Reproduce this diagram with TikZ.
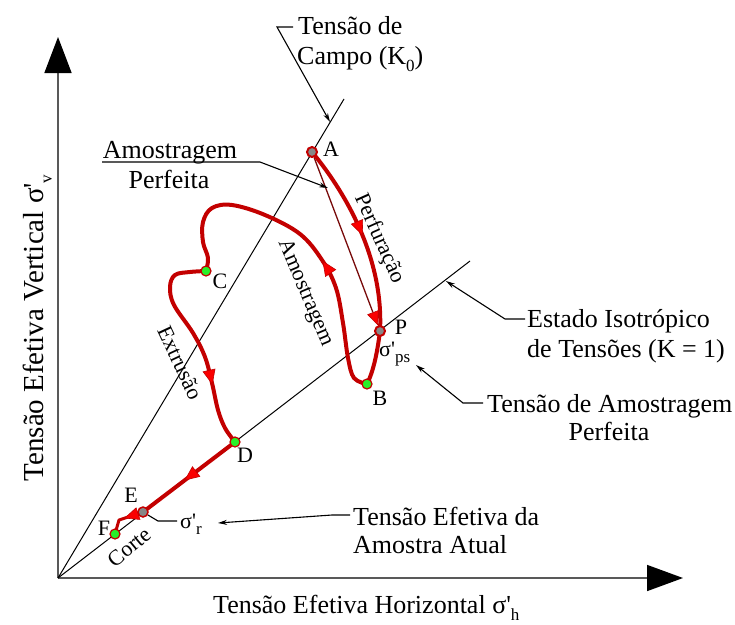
\documentclass[tikz,border=0pt]{standalone}
\usepackage{fontspec}
\setmainfont{Liberation Serif}
\usetikzlibrary{arrows.meta,decorations.markings}
\definecolor{pathred}{RGB}{195,0,0}
\definecolor{arrred}{RGB}{250,0,0}
\definecolor{thinred}{RGB}{120,10,10}
\definecolor{dotgreen}{RGB}{40,240,40}
\definecolor{dotgray}{RGB}{135,135,135}
\newcommand\sbs[1]{\raisebox{-0.3em}{\fontsize{17}{17}\selectfont #1}}
\newcommand\prm{\textquotesingle}
\pgfdeclarelayer{bg}
\pgfsetlayers{bg,main}
\begin{document}
\begin{tikzpicture}[x=1pt,y=-1pt,
 big/.style={font=\fontsize{26}{30}\selectfont, inner sep=0pt},
 med/.style={font=\fontsize{22}{26}\selectfont, inner sep=0pt},
 ax/.style={line width=1.6pt, draw=black!65},
 kline/.style={line width=1pt, black},
 leader/.style={line width=1.1pt, black},
 ltip/.style={-{Stealth[length=9pt,width=5pt]}},
 thickpath/.style={line width=4pt, draw=pathred, line cap=round, line join=round},
 midarrow/.style={postaction={decorate}, decoration={markings, mark=at position #1 with {\arrow{Triangle[length=15pt,width=13pt,color=pathred,fill=arrred,line width=0.6pt]}}}},
 pt/.style={circle, minimum size=10pt, inner sep=0pt, draw=pathred, line width=2pt},
]
\useasboundingbox (0,0) rectangle (735,624);

% origin and line ends
\coordinate (O) at (58,578);
\coordinate (ytop) at (58,37);
\coordinate (xend) at (683,578);
\coordinate (k0end) at (344,99);
\coordinate (k1end) at (470,261);

% stress path points
\node[pt, fill=dotgray] (A) at (312,152) {};
\node[pt, fill=dotgray] (P) at (380,331) {};
\node[pt, fill=dotgreen, line width=1.2pt] (B) at (367,384) {};
\node[pt, fill=dotgreen, line width=1.2pt] (C) at (206,271) {};
\node[pt, fill=dotgreen, line width=1.2pt] (D) at (235,442) {};
\node[pt, fill=dotgray, line width=1.5pt] (E) at (143,512) {};
\node[pt, fill=dotgreen, line width=1.2pt] (F) at (115,534) {};

% point labels
\node[med] (lA) at (331,149) {A};
\node[med] (lP) at (401,327) {P};
\node[med, anchor=base west] (lps) at (379,356) {σ\prm\sbs{ps}};
\node[med] (lB) at (380,398) {B};
\node[med] (lC) at (220,281) {C};
\node[med] (lD) at (245,455) {D};
\node[med] (lE) at (131,495) {E};
\node[med] (lF) at (104,528) {F};
\node[med, anchor=base west] (lr) at (180,528) {σ\prm\sbs{r}};

\begin{pgfonlayer}{bg}
% axes
\draw[ax, -{Triangle[length=36pt,width=27pt,color=black]}] (O) -- (ytop);
\draw[ax, -{Triangle[length=36pt,width=26pt,color=black]}] (O) -- (xend);
% K lines
\draw[kline] (O) -- (k0end);
\draw[kline] (O) -- (k1end);

% perfect sampling line
\draw[line width=1.3pt, thinred, -{Triangle[length=14pt,width=12pt,color=pathred,fill=arrred,line width=0.6pt]}] (A) -- (P);

% drilling
\draw[thickpath, midarrow=0.5] (A.center) .. controls (342,188) and (384,255) .. (P.center);
\draw[thickpath] (P.center) .. controls (377,355) and (373,372) .. (B.center);
% sampling
\draw[thickpath, midarrow=0.41] plot[smooth, tension=0.6] coordinates {(B.center) (354,378) (348,358) (343,323) (336,288) (322,260) (300,234) (265,215) (232,205) (212,208) (203,222) (203,242) (208,258) (C.center)};
% extrusion
\draw[thickpath, midarrow=0.71] plot[smooth, tension=0.6] coordinates {(C.center) (190,272) (175,275) (170,287) (174,305) (193,333) (205,357) (212,383) (218,410) (225,428) (D.center)};
% D to E
\draw[thickpath, midarrow=0.55] (D.center) -- (E.center);
% cutting
\draw[thickpath, line width=3pt, midarrow=0.5] (E.center) -- (119,520) -- (F.center);
\end{pgfonlayer}

% texts
\node[big, anchor=base west] (t1) at (298,34) {Tensão de};
\node[big, anchor=base west] (t2) at (297,64) {Campo (K\sbs{0})};
\node[big, anchor=base] (am1) at (170,158) {Amostragem};
\node[big, anchor=base] (am2) at (169,188) {Perfeita};
\node[big, anchor=base west] (ei1) at (527,327) {Estado Isotrópico};
\node[big, anchor=base west] (ei2) at (527,357) {de Tensões (K = 1)};
\node[big, anchor=base west] (ta1) at (487,412) {Tensão de Amostragem};
\node[big, anchor=base] (ta2) at (609,440) {Perfeita};
\node[big, anchor=base west] (te1) at (353,525) {Tensão Efetiva da};
\node[big, anchor=base west] (te2) at (353,553) {Amostra Atual};
\node[big, anchor=base west] (xlab) at (213,613) {Tensão Efetiva Horizontal σ\prm\sbs{h}};
\node[big, font=\fontsize{29}{32}\selectfont, rotate=90, anchor=base] (ylab) at (43,328) {Tensão Efetiva Vertical σ\prm\sbs{v}};

% path labels
\node[med, rotate=-66] (lperf) at (379,239) {Perfuração};
\node[med, rotate=-67] (lamo) at (305,293) {Amostragem};
\node[med, rotate=-65] (lext) at (180,363) {Extrusão};
\node[med, rotate=40] (lcor) at (129,547) {Corte};

% leaders
\coordinate (c1a) at (293,27);
\coordinate (c1b) at (277,27);
\coordinate (c1t) at (330,122);
\draw[leader, ltip] (c1a) -- (c1b) -- (c1t);
\coordinate (c2a) at (102,162);
\coordinate (c2b) at (260,162);
\coordinate (c2t) at (328,188);
\draw[leader, ltip] (c2a) -- (c2b) -- (c2t);
\coordinate (c3a) at (525,319);
\coordinate (c3b) at (505,319);
\coordinate (c3t) at (446,281);
\draw[leader, ltip] (c3a) -- (c3b) -- (c3t);
\coordinate (c4a) at (483,403);
\coordinate (c4b) at (463,403);
\coordinate (c4t) at (416,365);
\draw[leader, ltip] (c4a) -- (c4b) -- (c4t);
\coordinate (c5a) at (350,515);
\coordinate (c5b) at (332,515);
\coordinate (c5t) at (218,523);
\draw[leader, ltip] (c5a) -- (c5b) -- (c5t);
\coordinate (c6b) at (158,521);
\coordinate (c6c) at (177,521);
\draw[leader] (E) -- (c6b) -- (c6c);
\end{tikzpicture}
\end{document}
